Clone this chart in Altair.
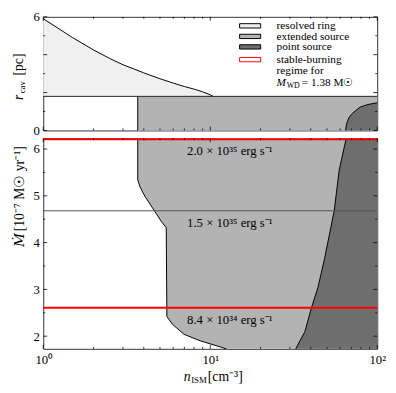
import altair as alt
import pandas as pd

# ---------------- data ----------------
ring_n = [1.0, 1.5, 2.0, 2.5, 3.0, 3.5, 4.0, 5.0, 6.0, 7.0, 8.0, 9.0, 10.0, 10.4]
ring_r = [5.9, 4.9, 4.25, 3.8, 3.47, 3.24, 3.04, 2.73, 2.5, 2.32, 2.18, 2.04, 1.88, 1.8]
r_split = 1.8
ext_top_nmin = 3.68
pt_top_n = [64.7, 65.2, 66.2, 68.0, 70.8, 75.0, 79.3, 88.0, 100.0]
pt_top_r = [0.0, 0.25, 0.46, 0.70, 0.89, 1.08, 1.24, 1.37, 1.46]

ext_M = [6.23, 5.34, 5.19, 4.99, 4.67, 4.45, 4.32, 2.42, 2.25, 2.04, 1.90, 1.73]
ext_n = [3.68, 3.68, 3.80, 4.06, 4.65, 5.10, 5.45, 5.50, 5.96, 6.97, 8.74, 12.5]
pt_M = [6.23, 5.55, 4.69, 3.66, 3.05, 2.61, 2.10, 1.73]
pt_n = [65.2, 59.2, 55.3, 48.4, 44.2, 40.4, 36.9, 32.5]
n_max = 100.0

mdot_stable = [6.21, 2.61]
mdot_mid = [4.68]
lum_labels = ["2.0 × 10³⁵ erg s⁻¹", "1.5 × 10³⁵ erg s⁻¹", "8.4 × 10³⁴ erg s⁻¹"]
lum_M = [5.96, 4.41, 2.35]
lum_n = [13.1, 13.1, 13.1]

x_major = [1, 10, 100]
x_minor = [2, 3, 4, 5, 6, 7, 8, 9, 20, 30, 40, 50, 60, 70, 80, 90]
yt_major = [0, 2, 4, 6]
yt_minor = [1, 3, 5]
yb_major = [2, 3, 4, 5, 6]
yb_minor = [2.5, 3.5, 4.5, 5.5]

legend_labels = ["resolved ring", "extended source", "point source",
                 "stable-burning", "regime for"]

# ---------------- styling ----------------
FONT = "Liberation Serif"
W, H1, H2 = 341, 116, 215
C_RING, C_EXT, C_PT = "#f0f0f0", "#b3b3b3", "#6e6e6e"

XS = alt.Scale(type="log", domain=[1, 100], nice=False)
YT = alt.Scale(domain=[0, 6], nice=False)
YB = alt.Scale(domain=[1.73, 6.23], nice=False, zero=False)

ax_yt = alt.Axis(values=yt_major, ticks=False, domain=False, grid=False, labelPadding=4,
                 title=None, labelFont=FONT, labelFontSize=13, labelColor="black")
ax_yb = alt.Axis(values=yb_major, ticks=False, domain=False, grid=False, labelPadding=4,
                 title=None, labelFont=FONT, labelFontSize=13, labelColor="black")
ax_xb = alt.Axis(values=x_major, ticks=False, domain=False, grid=False, labelPadding=5,
                 title=None, labelFont=FONT, labelFontSize=13, labelColor="black",
                 labelFlush=False,
                 labelExpr="datum.value == 1 ? '10⁰' : (datum.value == 10 ? '10¹' : '10²')")

one = pd.DataFrame({"a": [0]})


def txt(s, x, y, size=13, style="normal", align="left", angle=0, color="black", font=FONT):
    kw = dict(align=align, baseline="middle", font=font, fontSize=size,
              fontStyle=style, color=color)
    if angle:
        kw["angle"] = angle
    return alt.Chart(one).mark_text(**kw).encode(
        x=alt.value(x), y=alt.value(y), text=alt.value(s))


def ticks(H, yscale, ymaj, ymin, xaxis):
    layers = []
    for vals, ln in ((x_major, 4), (x_minor, 2)):
        d = pd.DataFrame({"t": vals})
        layers.append(alt.Chart(d).mark_rule(color="black", strokeWidth=0.8).encode(
            x=alt.X("t:Q", scale=XS, axis=xaxis), y=alt.value(H), y2=alt.value(H - ln)))
        layers.append(alt.Chart(d).mark_rule(color="black", strokeWidth=0.8).encode(
            x=alt.X("t:Q", scale=XS, axis=xaxis), y=alt.value(0), y2=alt.value(ln)))
    for vals, ln in ((ymaj, 4), (ymin, 2)):
        d = pd.DataFrame({"t": vals})
        layers.append(alt.Chart(d).mark_rule(color="black", strokeWidth=0.8).encode(
            y=alt.Y("t:Q", scale=yscale), x=alt.value(0), x2=alt.value(ln)))
        layers.append(alt.Chart(d).mark_rule(color="black", strokeWidth=0.8).encode(
            y=alt.Y("t:Q", scale=yscale), x=alt.value(W), x2=alt.value(W - ln)))
    return layers


# ---------------- top panel ----------------
ring_df = pd.DataFrame({"n": ring_n, "r": ring_r, "base": [r_split] * len(ring_n)})
ptt_df = pd.DataFrame({"n": pt_top_n, "r": pt_top_r, "base": [0.0] * len(pt_top_n)})
extt_df = pd.DataFrame({"n1": [ext_top_nmin], "n2": [n_max], "r1": [0.0], "r2": [r_split]})

top_layers = [
    alt.Chart(extt_df).mark_rect(color=C_EXT).encode(
        x=alt.X("n1:Q", scale=XS, axis=None), x2="n2:Q",
        y=alt.Y("r1:Q", scale=YT, axis=ax_yt), y2="r2:Q"),
    alt.Chart(ring_df).mark_area(color=C_RING).encode(
        x=alt.X("n:Q", scale=XS, axis=None), y=alt.Y("r:Q", scale=YT, axis=ax_yt), y2="base:Q"),
    alt.Chart(ptt_df).mark_area(color=C_PT).encode(
        x=alt.X("n:Q", scale=XS, axis=None), y=alt.Y("r:Q", scale=YT, axis=ax_yt), y2="base:Q"),
    alt.Chart(ring_df).mark_line(color="black", strokeWidth=1).encode(
        x=alt.X("n:Q", scale=XS, axis=None), y=alt.Y("r:Q", scale=YT, axis=ax_yt)),
    alt.Chart(ptt_df).mark_line(color="black", strokeWidth=1).encode(
        x=alt.X("n:Q", scale=XS, axis=None), y=alt.Y("r:Q", scale=YT, axis=ax_yt)),
    alt.Chart(extt_df).mark_rule(color="black", strokeWidth=1).encode(
        x=alt.X("n1:Q", scale=XS, axis=None), y=alt.Y("r1:Q", scale=YT, axis=ax_yt), y2="r2:Q"),
    alt.Chart(extt_df).mark_rule(color="#222222", strokeWidth=1).encode(
        y=alt.Y("r2:Q", scale=YT, axis=ax_yt)),
]
top_layers += ticks(H1, YT, yt_major, yt_minor, None)

# legend
sw_fill = [C_RING, C_EXT, C_PT, "white"]
sw_stroke = ["black", "black", "black", "red"]
sw_y = [9.2, 20.0, 30.7, 43.7]
for f, s, yy in zip(sw_fill, sw_stroke, sw_y):
    top_layers.append(alt.Chart(one).mark_rect(fill=f, stroke=s, strokeWidth=1).encode(
        x=alt.value(200.5), x2=alt.value(222), y=alt.value(yy - 2.2), y2=alt.value(yy + 2.2)))
for lab, yy in zip(legend_labels, [9.5, 20.4, 31.3, 43.7, 55.3]):
    top_layers.append(txt(lab, 238.2, yy, size=11.5))
top_layers.append(txt("M", 238.2, 67.5, size=11.5, style="italic"))
top_layers.append(txt("WD", 248.5, 70.5, size=8))
top_layers.append(txt("= 1.38 M☉", 264, 67.5, size=11.5))
# y title (top)
top_layers.append(txt("r", -25, 85, size=14, style="italic", angle=270))
top_layers.append(txt("cav", -21.5, 78, size=9, angle=270))
top_layers.append(txt("[pc]", -25, 60, size=14, angle=270))

top = alt.layer(*top_layers).properties(width=W, height=H1)

# ---------------- bottom panel ----------------
ext_df = pd.DataFrame({"M": ext_M, "n": ext_n, "nr": [n_max] * len(ext_M),
                       "i": list(range(len(ext_M)))})
pt_df = pd.DataFrame({"M": pt_M, "n": pt_n, "nr": [n_max] * len(pt_M),
                      "i": list(range(len(pt_M)))})
st_df = pd.DataFrame({"M": mdot_stable})
mid_df = pd.DataFrame({"M": mdot_mid})
lum_df = pd.DataFrame({"M": lum_M, "n": lum_n, "s": lum_labels})

XB = lambda f: alt.X(f, type="quantitative", scale=XS, axis=ax_xb)
YBe = lambda f: alt.Y(f, type="quantitative", scale=YB, axis=ax_yb)

bot_layers = [
    alt.Chart(ext_df).mark_area(orient="horizontal", color=C_EXT).encode(
        y=YBe("M"), x=XB("n"), x2="nr:Q"),
    alt.Chart(pt_df).mark_area(orient="horizontal", color=C_PT).encode(
        y=YBe("M"), x=XB("n"), x2="nr:Q"),
    alt.Chart(ext_df).mark_line(color="black", strokeWidth=1).encode(
        y=YBe("M"), x=XB("n"), order="i:Q"),
    alt.Chart(pt_df).mark_line(color="black", strokeWidth=1).encode(
        y=YBe("M"), x=XB("n"), order="i:Q"),
    alt.Chart(mid_df).mark_rule(color="#555555", strokeWidth=1).encode(y=YBe("M")),
    alt.Chart(st_df).mark_rule(color="#ff0000", strokeWidth=2).encode(y=YBe("M")),
    alt.Chart(lum_df).mark_text(font=FONT, fontSize=13, color="black", align="center",
                                baseline="middle").encode(y=YBe("M"), x=XB("n"), text="s:N"),
]
bot_layers += ticks(H2, YB, yb_major, yb_minor, ax_xb)
# x title
bot_layers.append(txt("n", 143.5, 243.5, size=14, style="italic"))
bot_layers.append(txt("ISM", 151, 246.5, size=9))
bot_layers.append(txt("[cm⁻³]", 168, 243.5, size=14))
# y title (bottom)
bot_layers.append(txt("Ṁ", -24, 111, size=14, style="italic", angle=270, font="DejaVu Serif"))
bot_layers.append(txt("[10⁻⁷ M☉ yr⁻¹]", -24, 95, size=14, angle=270))

bottom = alt.layer(*bot_layers).properties(width=W, height=H2)

chart = alt.vconcat(top, bottom, spacing=8, bounds="flush").properties(
    padding={"left": 3, "top": -2, "right": 2, "bottom": 0}
).configure_view(stroke="#333333", strokeWidth=1).configure_concat(spacing=8)

chart.save("out.html", embed_options={"renderer": "svg", "actions": False})
